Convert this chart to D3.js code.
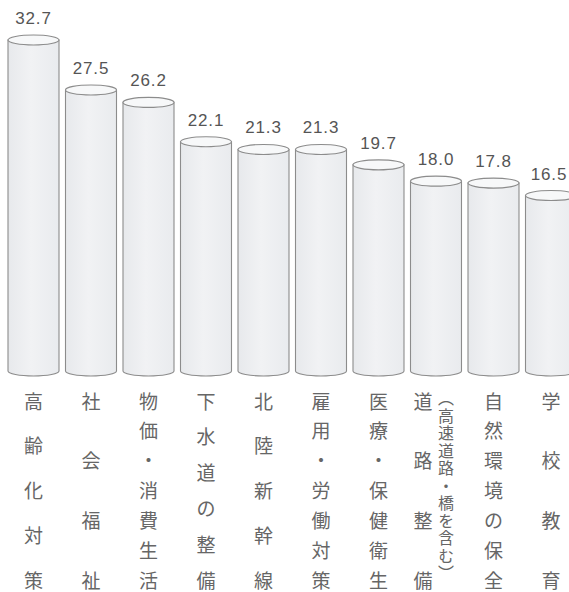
<!DOCTYPE html>
<meta charset="utf-8">
<script src="https://d3js.org/d3.v7.min.js"></script>
<style>
  body { margin: 0; background: #fff; }
</style>
<svg id="chart" width="569" height="592"></svg>
<script>

// data
const categories = ["高齢化対策", "社会福祉", "物価・消費生活", "下水道の整備", "北陸新幹線",
                    "雇用・労働対策", "医療・保健衛生", "道路整備", "自然環境の保全", "学校教育"];
const values = [32.7, 27.5, 26.2, 22.1, 21.3, 21.3, 19.7, 18.0, 17.8, 16.5];
const notes = ["", "", "", "", "", "", "", "（高速道路・橋を含む）", "", ""];

const svg = d3.select("#chart");

const x = d3.scaleBand()
    .domain(categories)
    .range([8, 576.5])
    .paddingInner(0.113)
    .paddingOuter(0);

// top of the cylinder (ellipse centre)
const y = d3.scaleLinear()
    .domain([0, 32.7])
    .range([354, 40]);

const bottom = 371;   // centre of the bottom ellipse
const ry = 5;

const defs = svg.append("defs");
const grad = defs.append("linearGradient").attr("id", "body").attr("x1", 0).attr("x2", 1);
grad.append("stop").attr("offset", "0%").attr("stop-color", "#e7e9ec");
grad.append("stop").attr("offset", "45%").attr("stop-color", "#f1f2f4");
grad.append("stop").attr("offset", "100%").attr("stop-color", "#e9ebee");

const bars = svg.append("g")
  .selectAll("g")
  .data(categories)
  .join("g");

// cylinder body
bars.append("path")
    .attr("d", (d, i) => {
      const x0 = x(d), x1 = x(d) + x.bandwidth(), rx = x.bandwidth() / 2, t = y(values[i]);
      return `M${x0},${t} L${x0},${bottom} A${rx},${ry} 0 0 0 ${x1},${bottom} L${x1},${t} Z`;
    })
    .attr("fill", "url(#body)")
    .attr("stroke", "#8c8c8c")
    .attr("stroke-width", 1.1);

// top ellipse
bars.append("ellipse")
    .attr("cx", d => x(d) + x.bandwidth() / 2)
    .attr("cy", (d, i) => y(values[i]))
    .attr("rx", x.bandwidth() / 2)
    .attr("ry", ry)
    .attr("fill", "#f7f8f9")
    .attr("stroke", "#8c8c8c")
    .attr("stroke-width", 1.1);

// value labels
bars.append("text")
    .attr("x", (d, i) => x(d) + x.bandwidth() / 2 + (i === categories.length - 1 ? -2 : 0))
    .attr("y", (d, i) => y(values[i]) - 16)
    .attr("text-anchor", "middle")
    .style("font-family", "'Liberation Sans', sans-serif")
    .style("font-size", "17px")
    .style("letter-spacing", "0.8px")
    .style("fill", "#555")
    .text((d, i) => values[i].toFixed(1));

// category labels, one character per line, spread from 400 to 580
bars.each(function(d, i) {
  const g = d3.select(this);
  const chars = Array.from(d);
  const cy = d3.scalePoint().domain(d3.range(chars.length)).range([400, 579]);
  const cx = x(d) + x.bandwidth() / 2 + (notes[i] ? -13 : 0);
  g.selectAll("text.cat")
    .data(chars)
    .join("text")
      .attr("class", "cat")
      .attr("x", cx)
      .attr("y", (c, j) => cy(j))
      .attr("text-anchor", "middle")
      .attr("dominant-baseline", "central")
      .style("font-family", "'Noto Sans CJK JP', sans-serif")
      .style("font-size", "19px")
      .style("fill", "#666")
      .text(c => c);

  if (notes[i]) {
    g.append("text")
      .attr("x", x(d) + x.bandwidth() / 2 + 10)
      .attr("y", 390)
      .style("writing-mode", "vertical-rl")
      .style("font-family", "'Noto Sans CJK JP', sans-serif")
      .style("font-size", "16px")
      .style("letter-spacing", "1.5px")
      .style("fill", "#666")
      .text(notes[i]);
  }
});

</script>
